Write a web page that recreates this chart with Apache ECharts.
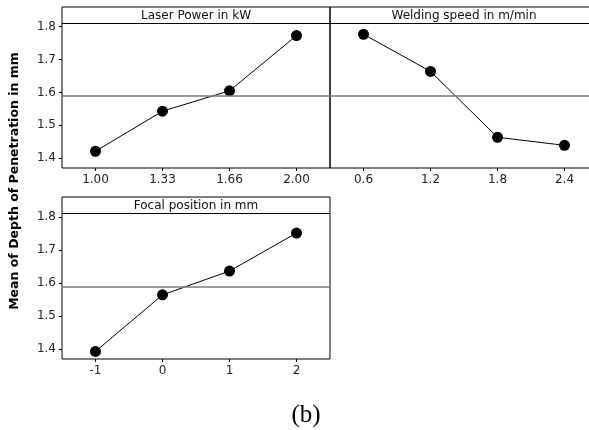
<!DOCTYPE html>
<html>
<head>
<meta charset="utf-8">
<script src="https://cdn.jsdelivr.net/npm/echarts@6/dist/echarts.min.js"></script>
<style>
  html, body { margin: 0; padding: 0; background: #fff; overflow: hidden; }
  #main { width: 600px; height: 430px; }
</style>
</head>
<body>
<div id="main"></div>
<script>
// factor levels (x categories)
var laserPower = ['1.00', '1.33', '1.66', '2.00'];
var weldingSpeed = ['0.6', '1.2', '1.8', '2.4'];
var focalPos = ['-1', '0', '1', '2'];

// mean depth of penetration
var laserMeans = [1.421, 1.543, 1.605, 1.773];
var speedMeans = [1.777, 1.664, 1.4635, 1.439];
var focalMeans = [1.393, 1.564, 1.636, 1.751];

var yTicks = [1.4, 1.5, 1.6, 1.7, 1.8];
var grandMean = 1.586;
var headerLine = 1.808;

var panelTitles = ['Laser Power in kW', 'Welding speed in m/min', 'Focal position in mm'];

var FONT = 'DejaVu Sans';
var myChart = echarts.init(document.getElementById('main'));

function xAx(idx, cats) {
  return {
    type: 'category',
    gridIndex: idx,
    data: cats,
    boundaryGap: true,
    axisLine: { show: false },
    axisTick: { show: true, alignWithLabel: true, length: 3, lineStyle: { color: '#000' } },
    axisLabel: { color: '#222', fontFamily: FONT, fontSize: 12, margin: 6 }
  };
}

function yAx(idx, showLabels) {
  return {
    type: 'value',
    gridIndex: idx,
    min: 1.37,
    max: 1.86,
    splitLine: { show: false },
    axisLine: { show: false },
    axisTick: { show: showLabels, customValues: yTicks, length: 3, lineStyle: { color: '#000' } },
    axisLabel: { show: showLabels, customValues: yTicks, color: '#222', fontFamily: FONT, fontSize: 12, margin: 6,
      formatter: function (v) { return v.toFixed(1); } }
  };
}

function line(idx, data) {
  return {
    type: 'line',
    xAxisIndex: idx,
    yAxisIndex: idx,
    data: data,
    symbol: 'circle',
    symbolSize: 11,
    itemStyle: { color: '#000' },
    lineStyle: { color: '#000', width: 1 },
    animation: false,
    markLine: {
      silent: true,
      symbol: 'none',
      label: { show: false },
      animation: false,
      data: [
        { yAxis: grandMean, lineStyle: { color: '#7a7a7a', width: 1.5, type: 'solid' } },
        { yAxis: headerLine, lineStyle: { color: '#000', width: 1, type: 'solid' } }
      ]
    }
  };
}

function headText(x, y, t) {
  return {
    type: 'text', x: x, y: y,
    style: { text: t, font: '12px "' + FONT + '"', fill: '#111', textAlign: 'center', textVerticalAlign: 'middle' }
  };
}

var gridStyle = { show: true, borderColor: '#000', borderWidth: 1, backgroundColor: 'transparent' };

var option = {
  animation: false,
  grid: [
    Object.assign({ left: 62, top: 7, width: 268, height: 161 }, gridStyle),
    Object.assign({ left: 330, top: 7, width: 268, height: 161 }, gridStyle),
    Object.assign({ left: 62, top: 197, width: 268, height: 162 }, gridStyle)
  ],
  xAxis: [xAx(0, laserPower), xAx(1, weldingSpeed), xAx(2, focalPos)],
  yAxis: [yAx(0, true), yAx(1, false), yAx(2, true)],
  series: [line(0, laserMeans), line(1, speedMeans), line(2, focalMeans)],
  graphic: [
    headText(196, 16, panelTitles[0]),
    headText(464, 16, panelTitles[1]),
    headText(196, 206, panelTitles[2]),
    {
      type: 'text', x: 15, y: 181, rotation: Math.PI / 2,
      style: { text: 'Mean of Depth of Penetration in mm', font: 'bold 12.5px "' + FONT + '"', fill: '#000',
        textAlign: 'center', textVerticalAlign: 'middle' }
    },
    {
      type: 'text', x: 306, y: 415,
      style: { text: '(b)', font: '25px "Liberation Serif"', fill: '#000', textAlign: 'center', textVerticalAlign: 'middle' }
    }
  ]
};
myChart.setOption(option);
</script>
</body>
</html>
